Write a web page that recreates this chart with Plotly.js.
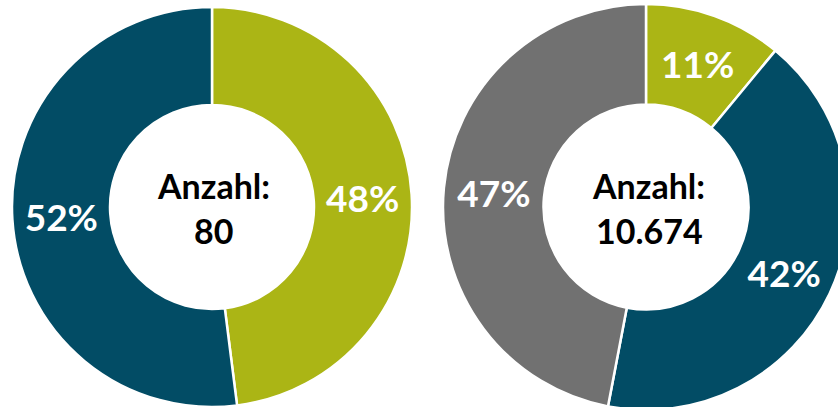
<!DOCTYPE html>
<html>
<head>
<meta charset="utf-8">
<script src="https://cdn.plot.ly/plotly-3.0.1.min.js"></script>
<style>
  html, body { margin: 0; padding: 0; overflow: hidden; background: #fff; }
  #chart { width: 870px; height: 420px; }
</style>
</head>
<body>
<div id="chart"></div>
<script>
// Left donut
const leftLabels = ["Grün", "Blau"];
const leftValues = [48, 52];
const leftColors = ["#abb515", "#024c65"];
const leftCount = "80";

// Right donut
const rightLabels = ["Grün", "Blau", "Grau"];
const rightValues = [11, 42, 47];
const rightColors = ["#abb515", "#024c65", "#717171"];
const rightCount = "10.674";

const W = 870, H = 420;
const pctFont = { family: "Lato, 'Open Sans', sans-serif", size: 37, color: "#ffffff", weight: 700 };

function donut(labels, values, colors, domain, hole) {
  return {
    type: "pie",
    labels: labels,
    values: values,
    sort: false,
    direction: "clockwise",
    rotation: 0,
    hole: hole,
    domain: domain,
    marker: { colors: colors, line: { color: "#ffffff", width: 2.5 } },
    texttemplate: "<b>%{value}%</b>",
    textposition: "inside",
    insidetextorientation: "horizontal",
    insidetextfont: pctFont,
    hoverinfo: "none",
    showlegend: false
  };
}

const data = [
  donut(leftLabels, leftValues, leftColors,
        { x: [12 / W, 412 / W], y: [13 / H, 413 / H] }, 0.51),
  donut(rightLabels, rightValues, rightColors,
        { x: [443 / W, 849 / W], y: [10 / H, 416 / H] }, 0.505)
];

const cFont = { family: "Lato, 'Open Sans', sans-serif", size: 34, color: "#000000", weight: 700 };
function ann(text, x, yTop) {
  return { text: "<b>" + text + "</b>", x: x / W, y: 1 - yTop / H, xref: "paper", yref: "paper",
           xanchor: "center", yanchor: "middle", showarrow: false, font: cFont };
}

const layout = {
  width: W, height: H,
  margin: { l: 0, r: 0, t: 0, b: 0 },
  paper_bgcolor: "#ffffff",
  plot_bgcolor: "#ffffff",
  annotations: [
    ann("Anzahl:", 213, 185),
    ann(leftCount, 213, 230),
    ann("Anzahl:", 648, 185),
    ann(rightCount, 649, 230)
  ]
};

Plotly.newPlot("chart", data, layout, { staticPlot: true, displayModeBar: false });
</script>
</body>
</html>
